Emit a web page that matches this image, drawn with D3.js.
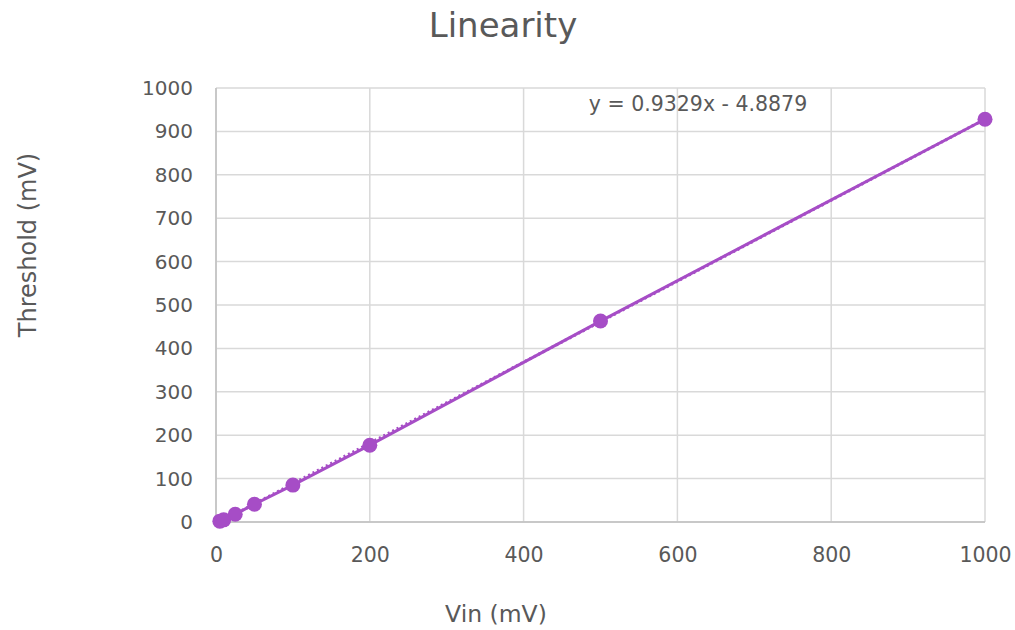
<!DOCTYPE html>
<html>
<head>
<meta charset="utf-8">
<script src="https://cdn.jsdelivr.net/npm/d3@7"></script>
<style>
  body { margin: 0; background: #fff; }
  text { font-family: "DejaVu Sans", sans-serif; fill: #595959; }
</style>
</head>
<body>
<div id="chart"></div>
<script>
const vin = [5, 10, 25, 50, 100, 200, 500, 1000];
const threshold = [2, 5, 18, 41, 85, 177, 463, 928];
const xTicks = [0, 200, 400, 600, 800, 1000];
const yTicks = [0, 100, 200, 300, 400, 500, 600, 700, 800, 900, 1000];
const slope = 0.9329;
const intercept = -4.8879;

const W = 1015, H = 630;
const margin = { left: 216, right: 30, top: 88, bottom: 108 };
const purple = '#a64dc6';

const svg = d3.select('#chart').append('svg')
  .attr('width', W)
  .attr('height', H);

const x = d3.scaleLinear().domain([0, 1000]).range([margin.left, W - margin.right]);
const y = d3.scaleLinear().domain([0, 1000]).range([H - margin.bottom, margin.top]);

// gridlines
svg.append('g').selectAll('line.h')
  .data(yTicks)
  .enter().append('line')
  .attr('x1', x(0)).attr('x2', x(1000))
  .attr('y1', d => y(d)).attr('y2', d => y(d))
  .style('stroke', '#d9d9d9').style('stroke-width', 1.5);

svg.append('g').selectAll('line.v')
  .data(xTicks)
  .enter().append('line')
  .attr('y1', y(0)).attr('y2', y(1000))
  .attr('x1', d => x(d)).attr('x2', d => x(d))
  .style('stroke', '#d9d9d9').style('stroke-width', 1.5);

// axis lines
svg.append('line')
  .attr('x1', x(0)).attr('x2', x(0)).attr('y1', y(0)).attr('y2', y(1000))
  .style('stroke', '#bfbfbf').style('stroke-width', 1.5);
svg.append('line')
  .attr('x1', x(0)).attr('x2', x(1000)).attr('y1', y(0)).attr('y2', y(0))
  .style('stroke', '#bfbfbf').style('stroke-width', 1.5);

const xAxis = d3.axisBottom(x).tickValues(xTicks).tickSize(0).tickPadding(25).tickFormat(d3.format('d'));
const yAxis = d3.axisLeft(y).tickValues(yTicks).tickSize(0).tickPadding(23).tickFormat(d3.format('d'));

const gx = svg.append('g')
  .attr('transform', `translate(0, ${y(0)})`)
  .call(xAxis);
const gy = svg.append('g')
  .attr('transform', `translate(${x(0)}, 0)`)
  .call(yAxis);
[gx, gy].forEach(g => {
  g.select('.domain').remove();
  g.selectAll('text').style('font-size', '20px').style('fill', '#595959')
    .style('font-family', '"DejaVu Sans", sans-serif');
});
gx.selectAll('text').style('font-size', '20.5px');

// trendline (dotted)
const tx = d3.extent(vin);
svg.append('line')
  .attr('x1', x(tx[0])).attr('y1', y(slope * tx[0] + intercept))
  .attr('x2', x(tx[1])).attr('y2', y(slope * tx[1] + intercept))
  .style('stroke', purple).style('stroke-width', 3)
  .style('stroke-dasharray', '2,3');

// data line
const pts = vin.map((v, i) => [v, threshold[i]]);
svg.append('path')
  .datum(pts)
  .attr('d', d3.line().x(d => x(d[0])).y(d => y(d[1])))
  .style('fill', 'none')
  .style('stroke', purple)
  .style('stroke-width', 3);

svg.selectAll('circle')
  .data(pts)
  .enter().append('circle')
  .attr('cx', d => x(d[0]))
  .attr('cy', d => y(d[1]))
  .attr('r', 7.5)
  .style('fill', purple);

// title and labels
svg.append('text')
  .attr('x', 503).attr('y', 37)
  .style('text-anchor', 'middle')
  .style('font-size', '34px')
  .text('Linearity');

svg.append('text')
  .attr('x', 698).attr('y', 111)
  .style('text-anchor', 'middle')
  .style('font-size', '20.5px')
  .text(`y = ${slope}x - ${Math.abs(intercept)}`);

svg.append('text')
  .attr('transform', 'rotate(-90)')
  .attr('x', -245).attr('y', 36)
  .style('text-anchor', 'middle')
  .style('font-size', '24px')
  .text('Threshold (mV)');

svg.append('text')
  .attr('x', 496).attr('y', 622)
  .style('text-anchor', 'middle')
  .style('font-size', '23.5px')
  .text('Vin (mV)');
</script>
</body>
</html>
